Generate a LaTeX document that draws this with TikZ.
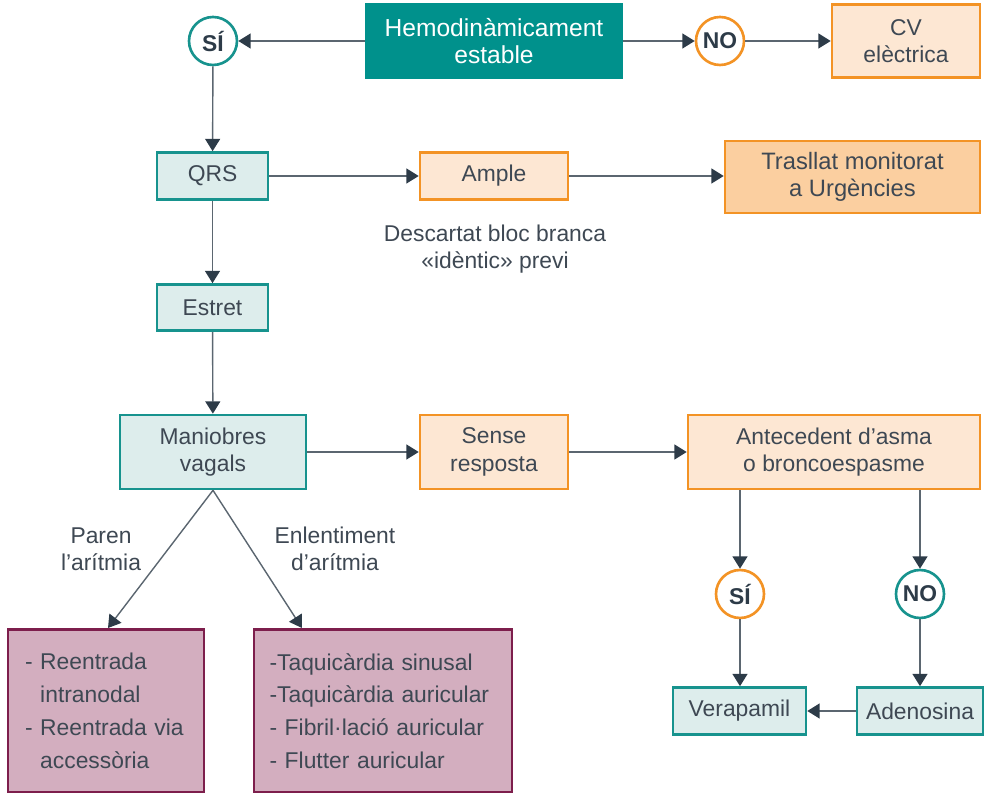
\documentclass[tikz,border=0pt]{standalone}
\usepackage{fontspec}
\setmainfont{Liberation Sans}
\usetikzlibrary{arrows.meta}

\definecolor{tealfill}{HTML}{00918C}
\definecolor{tealline}{HTML}{17938E}
\definecolor{tealpale}{HTML}{DDEDEC}
\definecolor{orangeline}{HTML}{F39325}
\definecolor{orangepale}{HTML}{FDE7D3}
\definecolor{orangemid}{HTML}{FBCFA0}
\definecolor{plumline}{HTML}{7D1E4C}
\definecolor{plumfill}{HTML}{D3AEBF}
\definecolor{linegrey}{HTML}{5B6670}
\definecolor{arrowdark}{HTML}{2D3B48}
\definecolor{textgrey}{HTML}{3E4853}

\begin{document}
\begin{tikzpicture}[x=0.02cm,y=-0.02cm,
    font=\fontsize{13}{15.5}\selectfont, text=textgrey,
    box/.style={rectangle, line width=1.5pt, inner sep=0pt, align=center},
    tealbox/.style={box, draw=tealline, fill=tealpale},
    orangebox/.style={box, draw=orangeline, fill=orangepale},
    plumbox/.style={box, draw=plumline, fill=plumfill, align=left,
        font=\fontsize{13}{18.7}\selectfont},
    answer/.style={circle, line width=1.5pt, fill=white, inner sep=0pt,
        minimum size=0.96cm, font=\fontsize{13}{15}\selectfont\bfseries, text=arrowdark},
    note/.style={align=center},
    arrow/.style={draw=linegrey, line width=0.8pt,
        -{Triangle[length=7pt,width=8.5pt,color=arrowdark]}}]
  \useasboundingbox (0,0) rectangle (984,793);

  % top row
  \node[box, fill=tealfill, draw=tealfill, text=white, minimum width=5.12cm, minimum height=1.48cm,
      font=\fontsize{14}{15.5}\selectfont] (hemo) at (494,41) {Hemodinàmicament\\estable};
  \node[answer, draw=tealline] (si1) at (213,41) {SÍ};
  \node[answer, draw=orangeline] (no1) at (720,41) {NO};
  \node[orangebox, minimum width=2.96cm, minimum height=1.46cm] (cv) at (906,41) {CV\\elèctrica};

  % QRS
  \node[tealbox, minimum width=2.22cm, minimum height=0.94cm] (qrs) at (212.5,176) {QRS};
  \node[orangebox, minimum width=2.96cm, minimum height=0.94cm] (ample) at (494,176) {Ample};
  \node[box, draw=orangeline, fill=orangemid, minimum width=5.1cm, minimum height=1.44cm,
      font=\fontsize{13.5}{15.5}\selectfont] (trasllat) at (852.5,177) {Trasllat monitorat\\a Urgències};
  \node[note] (descartat) at (495,249) {Descartat bloc branca\\«idèntic» previ};
  \node[tealbox, minimum width=2.22cm, minimum height=0.92cm] (estret) at (212.5,307.5) {Estret};

  % vagal manoeuvres
  \node[tealbox, minimum width=3.72cm, minimum height=1.48cm] (maniobres) at (213,452) {Maniobres\\vagals};
  \node[orangebox, minimum width=2.96cm, minimum height=1.48cm] (sense) at (494,452) {Sense\\resposta};
  \node[orangebox, minimum width=5.84cm, minimum height=1.48cm] (asma) at (834,452) {Antecedent d’asma\\o broncoespasme};

  \node[answer, draw=orangeline] (si2) at (740,594) {SÍ};
  \node[answer, draw=tealline] (no2) at (920,594) {NO};
  \node[tealbox, minimum width=2.66cm, minimum height=0.94cm] (verapamil) at (739.5,711) {Verapamil};
  \node[tealbox, minimum width=2.52cm, minimum height=0.94cm] (adenosina) at (920,711) {Adenosina};

  % outcome boxes
  \node[note] (paren) at (101,549) {Paren\\l’arítmia};
  \node[note] (enlent) at (335,549) {Enlentiment\\d’arítmia};
  \node[plumbox, minimum width=3.92cm, minimum height=3.26cm, text width=3.24cm]
      (reent) at (106,711) {- Reentrada\\\phantom{- }intranodal\\- Reentrada via\\\phantom{- }accessòria};
  \node[plumbox, minimum width=5.16cm, minimum height=3.26cm, text width=4.54cm]
      (taqui) at (383,711) {-Taquicàrdia sinusal\\-Taquicàrdia auricular\\- Fibril·lació auricular\\- Flutter auricular};
  \coordinate (reentin) at (108,628);
  \coordinate (taquiin) at (302,628);

  % connectors
  \draw[arrow] (hemo) -- (si1);
  \draw[arrow] (hemo) -- (no1);
  \draw[arrow] (no1) -- (cv);
  \draw[arrow] (si1) -- (qrs);
  \draw[arrow] (qrs) -- (ample);
  \draw[arrow] (ample) -- (trasllat.west |- ample);
  \draw[arrow] (qrs) -- (estret);
  \draw[arrow] (estret) -- (maniobres);
  \draw[arrow] (maniobres) -- (sense);
  \draw[arrow] (sense) -- (asma);
  \draw[arrow] (asma.south -| si2) -- (si2);
  \draw[arrow] (asma.south -| no2) -- (no2);
  \draw[arrow] (si2) -- (verapamil.north -| si2);
  \draw[arrow] (no2) -- (adenosina);
  \draw[arrow] (adenosina) -- (verapamil);
  \draw[arrow] (maniobres.south) -- (reentin);
  \draw[arrow] (maniobres.south) -- (taquiin);
\end{tikzpicture}
\end{document}
